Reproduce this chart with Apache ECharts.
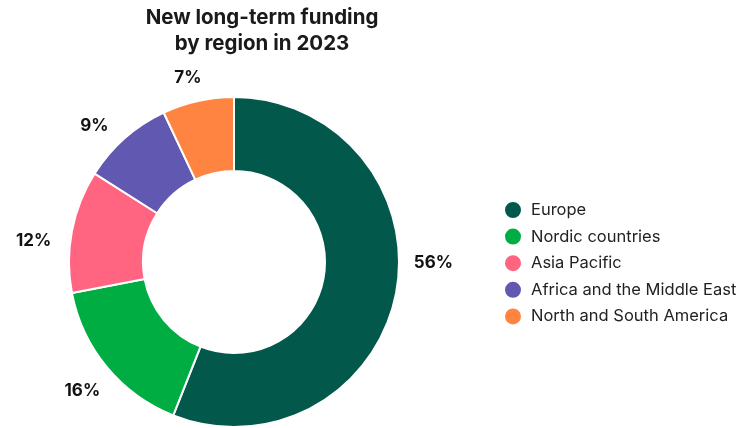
<!DOCTYPE html>
<html>
<head>
<meta charset="utf-8">
<script src="https://cdn.jsdelivr.net/npm/echarts@6/dist/echarts.min.js"></script>
<style>
  html, body { margin: 0; padding: 0; background: #ffffff; }
  #chart { width: 751px; height: 428px; }
</style>
</head>
<body>
<div id="chart"></div>
<script>
const titleText = 'New long-term funding\nby region in 2023';
const regions = ['Europe', 'Nordic countries', 'Asia Pacific', 'Africa and the Middle East', 'North and South America'];
const shares = [56, 16, 12, 9, 7];
const colors = ['#02594b', '#00ad43', '#ff6481', '#6159b1', '#ff8441'];

const chart = echarts.init(document.getElementById('chart'), null, { renderer: 'canvas' });

const labelOffsets = [[1, -37], [4, 0], [-2, 17], [-6, 15], [-2, 13]];

const mainData = regions.map((name, i) => ({
  name: name,
  value: shares[i],
  itemStyle: { color: colors[i] }
}));

const ghostData = regions.map((name, i) => ({
  name: name,
  value: shares[i],
  label: { offset: labelOffsets[i] }
}));

chart.setOption({
  animation: false,
  title: {
    text: titleText,
    left: 257,
    top: 0,
    textAlign: 'center',
    textStyle: {
      fontFamily: 'Inter',
      fontWeight: 'bold',
      fontSize: 20.5,
      lineHeight: 26,
      color: '#1a1a1a'
    }
  },
  legend: {
    orient: 'vertical',
    left: 498,
    top: 195,
    itemWidth: 18,
    itemHeight: 18,
    itemGap: 6.6,
    icon: 'circle',
    data: regions,
    textStyle: {
      fontFamily: 'Inter',
      fontSize: 16.5,
      color: '#222222',
      padding: [0, 0, 0, 4]
    }
  },
  series: [
    {
      type: 'pie',
      name: 'Funding',
      center: [234, 262],
      radius: [91, 165],
      startAngle: 90,
      clockwise: true,
      avoidLabelOverlap: false,
      label: { show: false },
      labelLine: { show: false },
      itemStyle: { borderColor: '#ffffff', borderWidth: 2 },
      emphasis: { disabled: true },
      data: mainData
    },
    {
      type: 'pie',
      name: 'Labels',
      center: [234, 262],
      radius: [0, 398],
      startAngle: 90,
      clockwise: true,
      silent: true,
      z: 1,
      avoidLabelOverlap: false,
      itemStyle: { color: 'rgba(0,0,0,0)', borderWidth: 0 },
      emphasis: { disabled: true },
      labelLine: { show: false },
      label: {
        show: true,
        position: 'inside',
        formatter: '{c}%',
        fontFamily: 'Inter',
        fontWeight: 'bold',
        fontSize: 17,
        color: '#111111'
      },
      data: ghostData
    }
  ]
});
</script>
</body>
</html>
